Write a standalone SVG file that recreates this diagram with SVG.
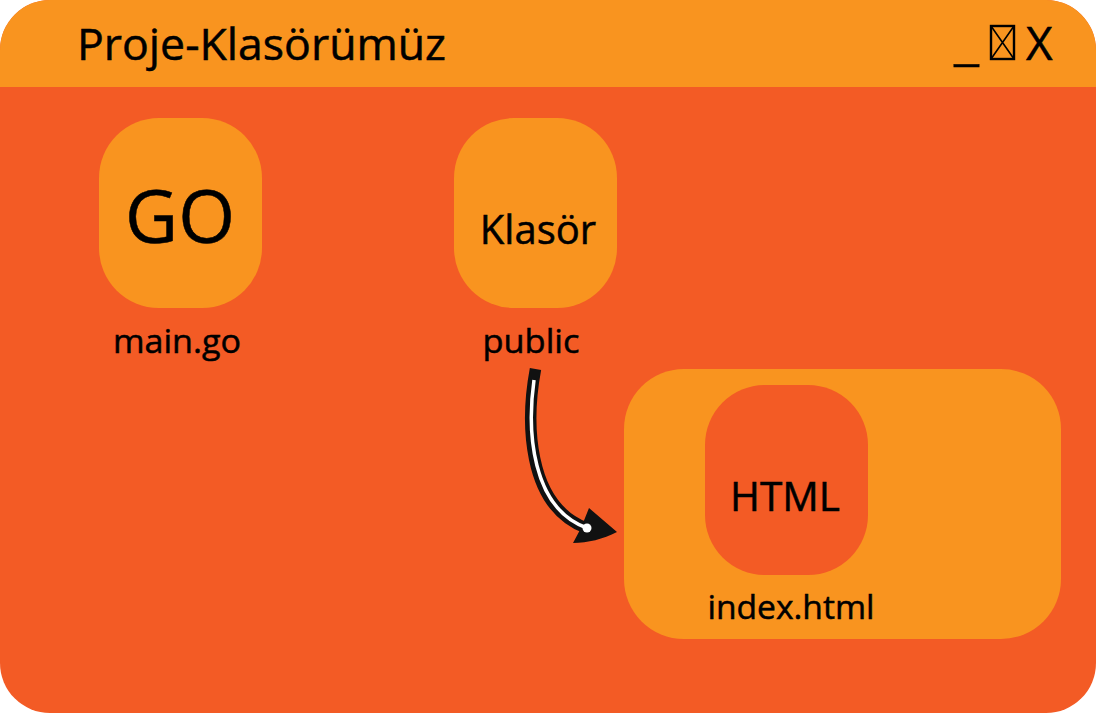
<svg xmlns="http://www.w3.org/2000/svg" width="1096" height="713" viewBox="0 0 1096 713">
<style>
text{font-family:"Open Sans","Noto Sans",sans-serif;fill:#000;stroke:#000;stroke-width:.5}
.o{fill:#f9941f}
.r{fill:#f35b25}
</style>
<rect width="1096" height="713" fill="#fff"/>
<g id="window">
<rect class="r" x="0" y="0" width="1096" height="713" rx="50"/>
<path class="o" d="M0 87V50A50 50 0 0 1 50 0H1046A50 50 0 0 1 1096 50V87Z"/>
<text x="77" y="60" font-size="44" textLength="369" lengthAdjust="spacingAndGlyphs">Proje-Klasörümüz</text>
<text x="954" y="60" font-size="44" textLength="25" lengthAdjust="spacingAndGlyphs">_</text>
<rect x="991" y="26" width="23" height="33" fill="none" stroke="#000" stroke-width="2.4"/>
<path d="M991 26L1014 59M1014 26L991 59" stroke="#000" stroke-width="1.6"/>
<text x="1026" y="60" font-size="46">X</text>
</g>
<g id="main-go">
<rect class="o" x="99" y="118" width="163" height="190" rx="60"/>
<text x="180" y="243" font-size="73" text-anchor="middle">GO</text>
<text x="177" y="353" font-size="33" text-anchor="middle" textLength="128" lengthAdjust="spacingAndGlyphs">main.go</text>
</g>
<g id="public">
<rect class="o" x="454" y="118" width="163" height="190" rx="60"/>
<text x="538" y="244" font-size="40" text-anchor="middle">Klasör</text>
<text x="531" y="353" font-size="33" text-anchor="middle" textLength="97" lengthAdjust="spacingAndGlyphs">public</text>
</g>
<g id="index-html">
<rect class="o" x="624" y="369" width="437" height="270" rx="60"/>
<rect class="r" x="705" y="385" width="163" height="190" rx="60"/>
<text x="785" y="511" font-size="40" text-anchor="middle" textLength="110" lengthAdjust="spacingAndGlyphs">HTML</text>
<text x="791" y="619" font-size="33" text-anchor="middle" textLength="167" lengthAdjust="spacingAndGlyphs">index.html</text>
</g>
<g id="connectors">
<path d="M535.5 369C526 420 526 505 586 528" fill="none" stroke="#111" stroke-width="11.5"/>
<path d="M589 508L617 532C603 539 588 543 573 543L581 528Z" fill="#111"/>
<path d="M534 380C527 430 531 508 587 528" fill="none" stroke="#fff" stroke-width="3.5"/>
<circle cx="587" cy="528" r="4.5" fill="#fff"/>
</g>
</svg>
